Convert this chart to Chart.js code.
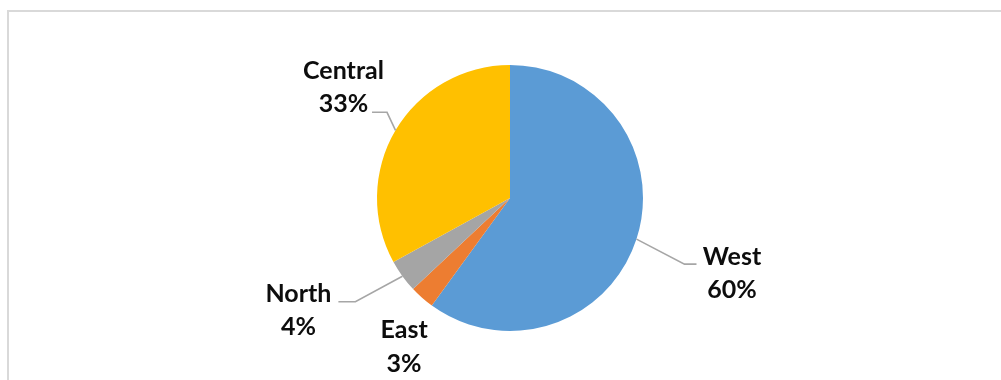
<!DOCTYPE html>
<html>
<head>
<meta charset="utf-8">
<script src="https://cdn.jsdelivr.net/npm/chart.js@4.4.0/dist/chart.umd.min.js"></script>
<style>
  html, body { margin: 0; padding: 0; background: #fff; width: 1001px; height: 380px; overflow: hidden; }
  #frame { position: absolute; left: 7px; top: 10px; width: 1100px; height: 400px;
           border-top: 2px solid #d9d9d9; border-left: 2px solid #d9d9d9; }
  #c { position: absolute; left: 0; top: 0; }
</style>
</head>
<body>
<div id="frame"></div>
<canvas id="c" width="1001" height="380"></canvas>
<script>
// ---- data ----
const regions = ['West', 'East', 'North', 'Central'];
const shares = [60, 3, 4, 33];
const sliceColors = ['#5B9BD5', '#ED7D31', '#A5A5A5', '#FFC000'];

// ---- label layout (relative to the slice's outer mid-point) ----
const labelLayout = [
  { leader: true,  elbow: [48, 25],   tail: 12,  text: [35.5, 1, 34] },   // West
  { leader: false, elbow: [0, 0],     tail: 0,   text: [-18, 40.5, 74] }, // East
  { leader: true,  elbow: [-47, 25.5], tail: -17, text: [-40, 0, 33.3] },  // North
  { leader: true,  elbow: [-8.5, -18], tail: -15, text: [-28.5, -33.5, 0] } // Central
];

const labelPlugin = {
  id: 'pieLabels',
  afterDatasetsDraw(chart) {
    const ctx = chart.ctx;
    const meta = chart.getDatasetMeta(0);
    const data = chart.data.datasets[0].data;
    const total = data.reduce((a, b) => a + b, 0);
    meta.data.forEach((arc, i) => {
      const p = arc.getProps(['x', 'y', 'startAngle', 'endAngle', 'outerRadius'], true);
      const mid = (p.startAngle + p.endAngle) / 2;
      const ex = p.x + Math.cos(mid) * p.outerRadius;
      const ey = p.y + Math.sin(mid) * p.outerRadius;
      const L = labelLayout[i];
      let ax = ex, ay = ey;
      ctx.save();
      if (L.leader) {
        const bx = ex + L.elbow[0], by = ey + L.elbow[1];
        const tx = bx + L.tail;
        ctx.strokeStyle = '#a6a6a6';
        ctx.lineWidth = 1.6;
        ctx.beginPath();
        ctx.moveTo(ex, ey);
        ctx.lineTo(bx, by);
        ctx.lineTo(tx, by);
        ctx.stroke();
        ax = tx; ay = by;
      }
      ctx.fillStyle = '#0d0d0d';
      ctx.font = 'bold 25px Lato, "Open Sans", sans-serif';
      ctx.textAlign = 'center';
      ctx.textBaseline = 'alphabetic';
      const cx = ax + L.text[0];
      ctx.fillText(chart.data.labels[i], cx, ay + L.text[1]);
      ctx.fillText(Math.round(data[i] / total * 100) + '%', cx, ay + L.text[2]);
      ctx.restore();
    });
  }
};

new Chart(document.getElementById('c'), {
  type: 'pie',
  data: {
    labels: regions,
    datasets: [{
      data: shares,
      backgroundColor: sliceColors,
      borderWidth: 0
    }]
  },
  options: {
    responsive: false,
    animation: false,
    layout: { padding: { left: 377, right: 358, top: 65, bottom: 49 } },
    plugins: { legend: { display: false }, tooltip: { enabled: false } }
  },
  plugins: [labelPlugin]
});
</script>
</body>
</html>
